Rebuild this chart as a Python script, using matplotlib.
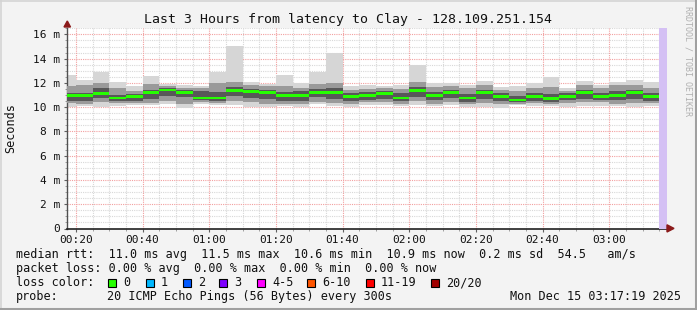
import matplotlib
matplotlib.use("Agg")
import matplotlib.pyplot as plt
from matplotlib.patches import Rectangle, Polygon
from matplotlib.lines import Line2D

W, H = 697, 310

# block start times (minutes after midnight), 5 minute steps
starts = [15 + 5 * i for i in range(36)]

median = [10.95, 10.95, 11.14, 10.78, 10.89, 11.22, 11.44, 11.22, 10.78, 10.78, 11.39, 11.28,
          11.22, 10.95, 10.95, 11.22, 11.22, 10.89, 10.95, 11.14, 10.78, 11.39, 10.95, 11.22,
          10.78, 11.22, 10.89, 10.61, 10.89, 10.70, 10.89, 11.22, 10.89, 10.97, 11.22, 10.89]
p_max = [12.69, 12.27, 12.88, 12.05, 11.77, 12.55, 11.91, 11.86, 11.77, 12.91, 15.03, 12.05,
         11.91, 12.69, 12.00, 12.91, 14.43, 11.77, 11.86, 11.77, 11.86, 13.46, 12.00, 12.00,
         11.86, 12.19, 11.66, 11.77, 12.00, 12.47, 11.58, 12.19, 11.86, 12.08, 12.27, 12.08]
p_min = [10.00, 10.06, 10.00, 10.12, 10.20, 10.20, 10.28, 9.92, 10.25, 10.20, 10.20, 10.00,
         10.00, 10.06, 10.00, 10.28, 10.06, 10.00, 10.20, 10.20, 10.06, 10.20, 10.06, 10.20,
         10.00, 10.00, 9.92, 10.20, 10.06, 10.06, 10.00, 10.12, 10.12, 10.06, 10.00, 10.06]
p90 = [11.75, 11.85, 12.00, 11.55, 11.30, 11.95, 11.75, 11.60, 11.55, 12.00, 12.05, 11.80,
       11.75, 11.75, 11.60, 11.95, 12.00, 11.45, 11.50, 11.55, 11.50, 12.05, 11.70, 11.75,
       11.55, 11.80, 11.40, 11.30, 11.55, 11.70, 11.35, 11.80, 11.55, 11.80, 11.80, 11.60]
p75 = [11.20, 11.15, 11.60, 11.00, 11.05, 11.45, 11.55, 11.40, 11.30, 11.25, 11.65, 11.50,
       11.45, 11.25, 11.30, 11.50, 11.55, 11.15, 11.25, 11.35, 11.15, 11.65, 11.25, 11.45,
       11.10, 11.45, 11.15, 10.95, 11.20, 11.10, 11.15, 11.45, 11.15, 11.30, 11.45, 11.15]
p25 = [10.55, 10.50, 10.75, 10.50, 10.55, 10.70, 10.90, 10.80, 10.60, 10.55, 10.90, 10.75,
       10.70, 10.55, 10.55, 10.80, 10.65, 10.55, 10.60, 10.70, 10.50, 10.85, 10.60, 10.75,
       10.45, 10.70, 10.55, 10.40, 10.55, 10.45, 10.60, 10.70, 10.60, 10.60, 10.70, 10.55]
p10 = [10.35, 10.30, 10.40, 10.35, 10.35, 10.35, 10.50, 10.30, 10.40, 10.35, 10.55, 10.40,
       10.30, 10.30, 10.30, 10.45, 10.35, 10.25, 10.40, 10.40, 10.30, 10.50, 10.30, 10.45,
       10.30, 10.35, 10.30, 10.30, 10.35, 10.30, 10.35, 10.40, 10.40, 10.30, 10.35, 10.35]

t_start, t_end = 17 + 19 / 60, 197 + 19 / 60
tick_minutes = [20, 40, 60, 80, 100, 120, 140, 160, 180]
tick_labels = ["00:20", "00:40", "01:00", "01:20", "01:40", "02:00", "02:20", "02:40", "03:00"]
y_ticks = [0, 2, 4, 6, 8, 10, 12, 14, 16]
y_labels = ["0", "2 m", "4 m", "6 m", "8 m", "10 m", "12 m", "14 m", "16 m"]

loss_labels = ["0", "1", "2", "3", "4-5", "6-10", "11-19", "20/20"]
loss_colors = ["#26ff00", "#00b8ff", "#0059ff", "#7e00ff", "#ff00ff", "#ff5500", "#ff0000", "#a10000"]

mono = "DejaVu Sans Mono"
plt.rcParams['font.family'] = mono

fig = plt.figure(figsize=(W / 100, H / 100), dpi=100)
fig.patch.set_facecolor("#f3f3f3")


def fx(x):
    return x / W


def fy(y):
    return 1 - y / H


# frame
fig.add_artist(Line2D([0, 1], [fy(0.5), fy(0.5)], color="#d4d4d4", lw=1.2))
fig.add_artist(Line2D([fx(0.5), fx(0.5)], [0, 1], color="#d4d4d4", lw=1.2))
fig.add_artist(Line2D([0, 1], [fy(309), fy(309)], color="#a0a0a0", lw=2.2))
fig.add_artist(Line2D([fx(696), fx(696)], [0, 1], color="#a0a0a0", lw=2.2))

x0, x1 = 67, 667
y0, y1 = 228.5, 28.3
ax = fig.add_axes([fx(x0), fy(y0), fx(x1) - fx(x0), fy(y1) - fy(y0)])
ax.set_facecolor("white")
ax.set_xlim(t_start, t_end)
ax.set_ylim(0, (y0 - y1) / 12.13)

# grid
for m in range(20, 200, 5):
    if m % 20:
        ax.axvline(m, color="#d8d8d8", lw=0.8, ls=(0, (1, 1)), zorder=0)
for v in [i * 0.5 for i in range(1, 34)]:
    if v % 2:
        ax.axhline(v, color="#d8d8d8", lw=0.8, ls=(0, (1, 1)), zorder=0)
for m in tick_minutes:
    ax.axvline(m, color="#f2a0a0", lw=0.8, ls=(0, (1, 1)), zorder=0)
for v in y_ticks[1:]:
    ax.axhline(v, color="#f2a0a0", lw=0.8, ls=(0, (1, 1)), zorder=0)

# smoke
widths = [5] * len(starts)
ax.bar(starts, [a - b for a, b in zip(p_max, p_min)], bottom=p_min, width=widths,
       align="edge", color="#d6d6d6", lw=0, zorder=2)
ax.bar(starts, [a - b for a, b in zip(p90, p10)], bottom=p10, width=widths,
       align="edge", color="#9a9a9a", lw=0, zorder=3)
ax.bar(starts, [a - b for a, b in zip(p75, p25)], bottom=p25, width=widths,
       align="edge", color="#585858", lw=0, zorder=4)
ax.bar(starts, [0.2] * len(starts), bottom=[m - 0.1 for m in median], width=widths,
       align="edge", color=loss_colors[0], lw=0, zorder=5)

# unknown area at the end
ax.axvspan(195, t_end, color="#d4c0f4", lw=0, zorder=6)

for s in ["top", "right"]:
    ax.spines[s].set_visible(False)
ax.spines["left"].set_color("#505050")
ax.spines["bottom"].set_color("#202020")
ax.spines["left"].set_linewidth(1)
ax.spines["bottom"].set_linewidth(1.2)

ax.set_xticks(tick_minutes)
ax.set_xticklabels(tick_labels)
ax.set_yticks(y_ticks)
ax.set_yticklabels(y_labels)
ax.tick_params(axis="both", direction="out", length=2, width=0.8, color="#606060",
               labelsize=8, labelcolor="#111111", pad=3)
ax.set_xticks(list(range(20, 200, 5)), minor=True)
ax.set_yticks([i * 0.5 for i in range(0, 34)], minor=True)
ax.tick_params(which="minor", direction="out", length=1.5, width=0.6, color="#909090")

# arrows
fig.add_artist(Polygon([[fx(64), fy(27)], [fx(70.5), fy(27)], [fx(67.3), fy(21)]],
                       closed=True, color="#8b1a1a", transform=fig.transFigure))
fig.add_artist(Polygon([[fx(667), fy(224.8)], [fx(667), fy(232)], [fx(674), fy(228.4)]],
                       closed=True, color="#8b1a1a", transform=fig.transFigure))

fig.text(fx(348), fy(19), "Last 3 Hours from latency to Clay - 128.109.251.154",
         ha="center", va="center", fontsize=9.5, color="#111111")
fig.text(fx(11), fy(128), "Seconds", rotation=90, ha="center", va="center",
         fontsize=8.5, color="#111111")
fig.text(fx(688), fy(6), "RRDTOOL / TOBI OETIKER", rotation=-90, ha="center", va="top",
         fontsize=6, color="#b0b0b0")

lines = [
    "median rtt:  11.0 ms avg  11.5 ms max  10.6 ms min  10.9 ms now  0.2 ms sd  54.5   am/s",
    "packet loss: 0.00 % avg  0.00 % max  0.00 % min  0.00 % now",
]
fig.text(fx(16), fy(254.5), lines[0], ha="left", va="center", fontsize=8.5, color="#111111")
fig.text(fx(16), fy(268.5), lines[1], ha="left", va="center", fontsize=8.5, color="#111111")
fig.text(fx(16), fy(282.5), "loss color:", ha="left", va="center", fontsize=8.5, color="#111111")

box_x = [108, 146, 183, 219, 257, 307, 366, 431]
for bx, col, lab in zip(box_x, loss_colors, loss_labels):
    fig.add_artist(Rectangle((fx(bx), fy(286.5)), fx(8), 8 / H, facecolor=col,
                             edgecolor="black", lw=0.8, transform=fig.transFigure))
    fig.text(fx(bx + 15), fy(282.5), lab, ha="left", va="center", fontsize=8.5, color="#111111")

fig.text(fx(16), fy(296.5), "probe:", ha="left", va="center", fontsize=8.5, color="#111111")
fig.text(fx(107), fy(296.5), "20 ICMP Echo Pings (56 Bytes) every 300s", ha="left",
         va="center", fontsize=8.5, color="#111111")
fig.text(fx(681), fy(296.5), "Mon Dec 15 03:17:19 2025", ha="right", va="center",
         fontsize=8.5, color="#111111")

fig.savefig("out.png", dpi=100, facecolor=fig.get_facecolor())
